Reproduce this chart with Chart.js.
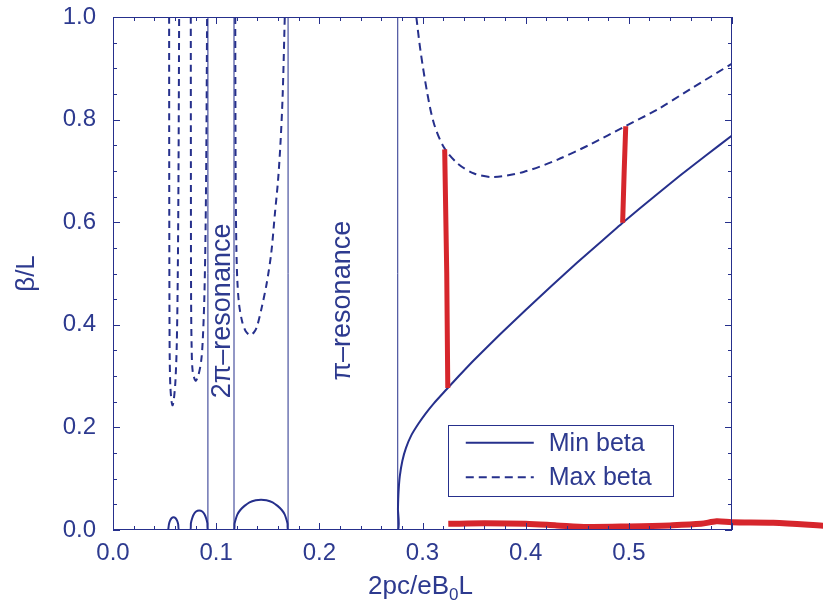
<!DOCTYPE html>
<html>
<head>
<meta charset="utf-8">
<script src="https://cdn.jsdelivr.net/npm/chart.js@4.4.0/dist/chart.umd.min.js"></script>
<style>
  html, body { margin: 0; padding: 0; background: #fff; }
  #wrap { width: 823px; height: 610px; }
</style>
</head>
<body>
<div id="wrap"><canvas id="betaChart"></canvas></div>
<script>
// values, x = 2pc/eB0L, y = beta/L
const minBeta = [
  [0.053, 0], [0.0535, 0], [0.0542, 0.011], [0.0552, 0.018], [0.0567, 0.023], [0.0587, 0.025],
  [0.0607, 0.023], [0.0622, 0.018], [0.0632, 0.011], [0.0639, 0], [0.075, 0],
  [0.0755, 0.013], [0.0766, 0.022], [0.0782, 0.030], [0.0805, 0.036], [0.0835, 0.038],
  [0.0865, 0.036], [0.0888, 0.030], [0.0904, 0.022], [0.0915, 0.013], [0.092, 0],
  [0.1173, 0], [0.1178, 0.012], [0.1188, 0.020], [0.1205, 0.030], [0.1234, 0.039],
  [0.1275, 0.047], [0.1323, 0.054], [0.1383, 0.058], [0.1435, 0.059], [0.1487, 0.058],
  [0.1547, 0.054], [0.1595, 0.047], [0.1636, 0.039], [0.1665, 0.030], [0.1682, 0.020],
  [0.1692, 0.012], [0.1697, 0], [0.276, 0],
  [0.2762, 0.04], [0.2768, 0.075], [0.278, 0.105], [0.2805, 0.135], [0.284, 0.16],
  [0.289, 0.184], [0.296, 0.207], [0.303, 0.227], [0.311, 0.247], [0.3207, 0.2685],
  [0.335, 0.2997], [0.35, 0.3315], [0.375, 0.381], [0.40, 0.429], [0.425, 0.4755],
  [0.45, 0.5215], [0.475, 0.5655], [0.4955, 0.6015], [0.525, 0.6505], [0.55, 0.6915],
  [0.575, 0.7305], [0.60, 0.769]
];
const maxBeta1 = [
  [0.0544, 1.0], [0.0545, 0.7], [0.0547, 0.45], [0.055, 0.33], [0.0556, 0.28], [0.0568, 0.25],
  [0.0578, 0.243], [0.059, 0.255], [0.0605, 0.29], [0.0618, 0.36], [0.0628, 0.5],
  [0.0635, 0.7], [0.0641, 1.0]
];
const maxBeta2 = [
  [0.0754, 1.0], [0.0755, 0.7], [0.0757, 0.45], [0.0762, 0.36], [0.0772, 0.31], [0.0800, 0.291],
  [0.0828, 0.302], [0.0855, 0.33], [0.087, 0.37], [0.0885, 0.45], [0.0897, 0.58],
  [0.0905, 0.75], [0.0912, 1.0]
];
const maxBeta3 = [
  [0.1185, 1.0], [0.1187, 0.8], [0.119, 0.65], [0.1196, 0.55], [0.1205, 0.487], [0.1222, 0.44],
  [0.125, 0.408], [0.1285, 0.388], [0.1329, 0.380], [0.1365, 0.385], [0.1395, 0.396],
  [0.1443, 0.435], [0.149, 0.481], [0.1534, 0.540], [0.157, 0.618], [0.160, 0.682],
  [0.1625, 0.76], [0.1645, 0.85], [0.1665, 1.0]
];
const maxBeta4 = [
  [0.294, 1.0], [0.298, 0.935], [0.3045, 0.853], [0.311, 0.793], [0.3207, 0.746],
  [0.3337, 0.715], [0.350, 0.695], [0.369, 0.688], [0.398, 0.698], [0.431, 0.722],
  [0.463, 0.752], [0.4955, 0.786], [0.528, 0.82], [0.560, 0.86], [0.600, 0.909]
];
const resonanceEdges = [0.092, 0.1173, 0.1697, 0.276];
// hand-drawn red marks on the scan
const redMark1 = [[0.3215, 0.742], [0.3235, 0.5], [0.3245, 0.277]];
const redMark2 = [[0.497, 0.787], [0.4955, 0.70], [0.494, 0.599]];
// the scribble runs past the right edge of the plot, listed right to left
const redUnderline = [
  [0.69, 0.008], [0.64, 0.014], [0.60, 0.015], [0.585, 0.017], [0.57, 0.012], [0.54, 0.009],
  [0.50, 0.007], [0.46, 0.006], [0.43, 0.009], [0.40, 0.012], [0.36, 0.013], [0.325, 0.012]
];
const xTicks = [0, 0.1, 0.2, 0.3, 0.4, 0.5];
const yTicks = [0, 0.2, 0.4, 0.6, 0.8, 1.0];
const legendLabels = ["Min beta", "Max beta"];
const regionLabels = [
  { text: "2\u03c0\u2013resonance", x: 0.1065, y: 0.427 },
  { text: "\u03c0\u2013resonance", x: 0.2225, y: 0.447 }
];

const navy = "#26308c";
const ink = "#2d3a8f";
const red = "#d6262c";
const font = "'Liberation Sans', Arial, sans-serif";

const pts = arr => arr.map(p => ({ x: p[0], y: p[1] }));

const datasets = [
  { data: pts(redMark1), borderColor: red, borderWidth: 5 },
  { data: pts(redMark2), borderColor: red, borderWidth: 5 },
  { data: pts(redUnderline), borderColor: red, borderWidth: 6, clip: false, tension: 0.3 },
  { label: "Min beta", data: pts(minBeta), borderColor: navy, borderWidth: 2, tension: 0.15 },
  { label: "Max beta", data: pts(maxBeta1), borderColor: navy, borderWidth: 2, borderDash: [7, 5], tension: 0.3 },
  { data: pts(maxBeta2), borderColor: navy, borderWidth: 2, borderDash: [7, 5], tension: 0.3 },
  { data: pts(maxBeta3), borderColor: navy, borderWidth: 2, borderDash: [7, 5], tension: 0.3 },
  { data: pts(maxBeta4), borderColor: navy, borderWidth: 2, borderDash: [8, 5], tension: 0.3 }
];
resonanceEdges.forEach(e => {
  datasets.push({ data: [{ x: e, y: 0 }, { x: e, y: 1 }], borderColor: navy, borderWidth: 1 });
});

// box, inward ticks, labels, legend and axis titles
const decorations = {
  id: "decorations",
  afterDatasetsDraw(chart) {
    const ctx = chart.ctx;
    const a = chart.chartArea;
    const xs = chart.scales.x;
    const ys = chart.scales.y;
    ctx.save();
    ctx.strokeStyle = navy;
    ctx.lineWidth = 1;
    ctx.setLineDash([]);
    ctx.strokeRect(a.left + 0.5, a.top + 0.5, a.width - 1, a.height - 1);

    ctx.beginPath();
    for (let i = 0; i <= 30; i++) {
      const px = Math.round(xs.getPixelForValue(i * 0.02)) + 0.5;
      const len = i % 5 === 0 ? 7 : 4;
      ctx.moveTo(px, a.bottom); ctx.lineTo(px, a.bottom - len);
      ctx.moveTo(px, a.top); ctx.lineTo(px, a.top + len);
    }
    for (let i = 0; i <= 20; i++) {
      const py = Math.round(ys.getPixelForValue(i * 0.05)) + 0.5;
      const len = i % 4 === 0 ? 7 : 4;
      ctx.moveTo(a.left, py); ctx.lineTo(a.left + len, py);
      ctx.moveTo(a.right, py); ctx.lineTo(a.right - len, py);
    }
    ctx.stroke();

    // rotated region labels
    ctx.fillStyle = ink;
    ctx.font = "27px " + font;
    ctx.textAlign = "center";
    ctx.textBaseline = "middle";
    regionLabels.forEach(r => {
      ctx.save();
      ctx.translate(xs.getPixelForValue(r.x), ys.getPixelForValue(r.y));
      ctx.rotate(-Math.PI / 2);
      ctx.fillText(r.text, 0, 0);
      ctx.restore();
    });

    // legend box
    const lx0 = xs.getPixelForValue(0.3245), lx1 = xs.getPixelForValue(0.543);
    const ly0 = ys.getPixelForValue(0.204), ly1 = ys.getPixelForValue(0.066);
    ctx.fillStyle = "#fff";
    ctx.fillRect(lx0, ly0, lx1 - lx0, ly1 - ly0);
    ctx.strokeRect(Math.round(lx0) + 0.5, Math.round(ly0) + 0.5, Math.round(lx1 - lx0), Math.round(ly1 - ly0));
    const rows = [ys.getPixelForValue(0.170), ys.getPixelForValue(0.103)];
    const dashes = [[], [8, 5]];
    ctx.font = "25px " + font;
    ctx.textAlign = "left";
    legendLabels.forEach((lab, i) => {
      ctx.beginPath();
      ctx.lineWidth = 2;
      ctx.setLineDash(dashes[i]);
      ctx.moveTo(lx0 + 18, rows[i]);
      ctx.lineTo(lx0 + 86, rows[i]);
      ctx.stroke();
      ctx.setLineDash([]);
      ctx.fillStyle = ink;
      ctx.fillText(lab, lx0 + 101, rows[i] + 1);
    });

    // axis titles
    ctx.fillStyle = ink;
    ctx.font = "26px " + font;
    ctx.textBaseline = "alphabetic";
    const p1 = "2pc/eB", sub = "0", p2 = "L";
    const w1 = ctx.measureText(p1).width, w3 = ctx.measureText(p2).width;
    ctx.font = "17px " + font;
    const w2 = ctx.measureText(sub).width;
    const cx = (a.left + a.right) / 2 - 2;
    const tx = cx - (w1 + w2 + w3) / 2;
    const base = 594;
    ctx.font = "26px " + font;
    ctx.fillText(p1, tx, base);
    ctx.font = "17px " + font;
    ctx.fillText(sub, tx + w1, base + 6);
    ctx.font = "26px " + font;
    ctx.fillText(p2, tx + w1 + w2, base);

    ctx.save();
    ctx.translate(27, (a.top + a.bottom) / 2);
    ctx.rotate(-Math.PI / 2);
    ctx.textAlign = "center";
    ctx.textBaseline = "middle";
    ctx.fillText("\u03b2/L", 0, 0);
    ctx.restore();
    ctx.restore();
  }
};

new Chart(document.getElementById("betaChart"), {
  type: "scatter",
  data: { datasets: datasets },
  options: {
    responsive: true,
    maintainAspectRatio: false,
    animation: false,
    showLine: true,
    elements: { point: { radius: 0, hoverRadius: 0 }, line: { fill: false } },
    layout: { padding: { top: 17, right: 91, left: 0, bottom: 0 } },
    plugins: { legend: { display: false }, tooltip: { enabled: false } },
    scales: {
      x: {
        type: "linear",
        min: 0,
        max: 0.6,
        afterFit: s => { s.height = 80; s.paddingLeft = 0; s.paddingRight = 0; },
        afterBuildTicks: s => { s.ticks = xTicks.concat([0.6]).map(v => ({ value: v })); },
        grid: { display: false, drawTicks: false },
        border: { display: false },
        ticks: {
          color: ink,
          padding: 9,
          maxRotation: 0,
          font: { family: font, size: 24 },
          callback: v => (v > 0.55 ? "" : v.toFixed(1))
        }
      },
      y: {
        type: "linear",
        min: 0,
        max: 1,
        afterFit: s => { s.width = 113; s.paddingTop = 0; s.paddingBottom = 0; },
        afterBuildTicks: s => { s.ticks = yTicks.map(v => ({ value: v })); },
        grid: { display: false, drawTicks: false },
        border: { display: false },
        ticks: {
          color: ink,
          padding: 17,
          font: { family: font, size: 24 },
          callback: v => v.toFixed(1)
        }
      }
    }
  },
  plugins: [decorations]
});
</script>
</body>
</html>
